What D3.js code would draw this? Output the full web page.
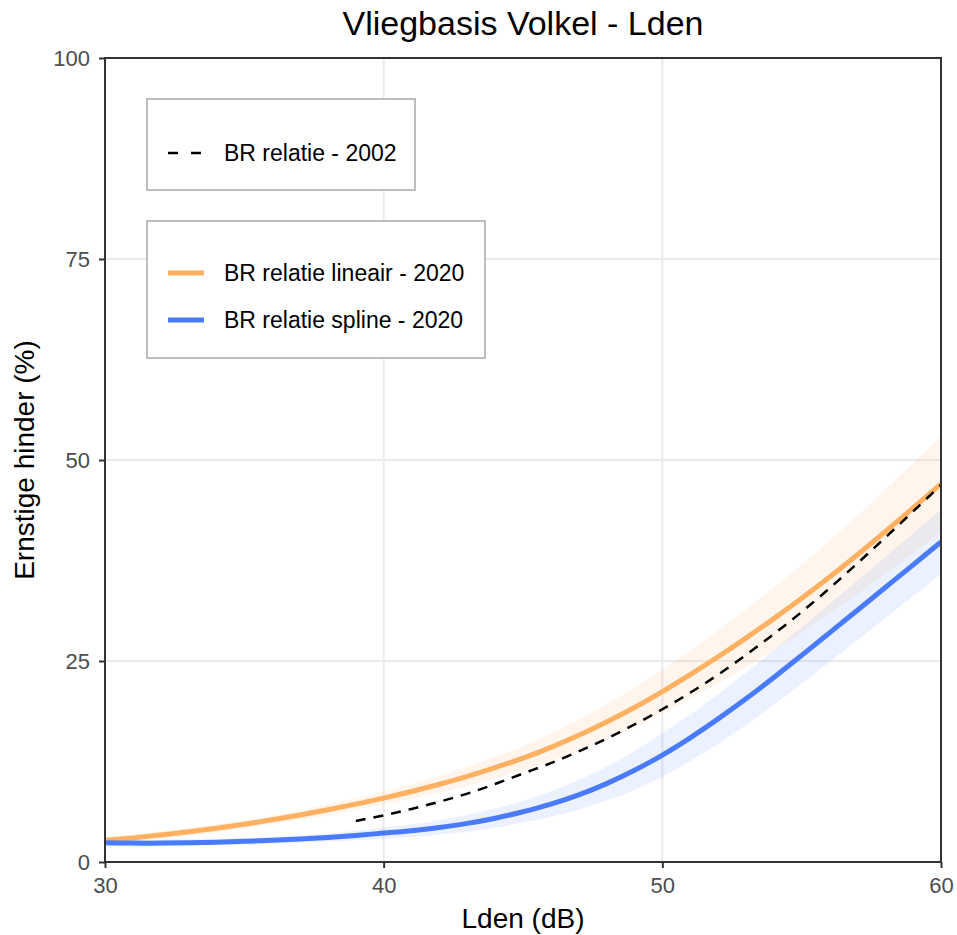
<!DOCTYPE html>
<html><head><meta charset="utf-8">
<script src="https://cdn.jsdelivr.net/npm/d3@7/dist/d3.min.js"></script>
<style>body{margin:0;background:#fff;} svg{display:block;font-family:"Liberation Sans",Arial,sans-serif;}</style>
</head><body>
<svg id="chart" width="957" height="935"></svg>
<script>
const title = "Vliegbasis Volkel - Lden";
const xLabel = "Lden (dB)";
const yLabel = "Ernstige hinder (%)";
const xTicks = [30, 40, 50, 60];
const yTicks = [0, 25, 50, 75, 100];

const lden = [30,31,32,33,34,35,36,37,38,39,40,41,42,43,44,45,46,47,48,49,50,51,52,53,54,55,56,57,58,59,60];
const lineair = [2.7,3.0,3.35,3.75,4.2,4.7,5.25,5.85,6.5,7.2,7.95,8.77,9.67,10.66,11.74,12.91,14.26,15.76,17.41,19.21,21.19,23.31,25.53,27.85,30.27,32.79,35.44,38.22,41.09,44.04,47.04];
const lineairCI = [0.4,0.42,0.44,0.46,0.48,0.5,0.55,0.6,0.67,0.73,0.8,0.92,1.05,1.2,1.35,1.5,1.72,1.95,2.2,2.45,2.7,3.0,3.3,3.6,3.9,4.2,4.55,4.9,5.25,5.6,6.0];
const spline = [2.4,2.35,2.35,2.4,2.47,2.57,2.7,2.86,3.05,3.3,3.6,3.9,4.3,4.8,5.45,6.25,7.2,8.35,9.75,11.4,13.3,15.45,17.8,20.3,22.95,25.7,28.5,31.32,34.14,36.96,39.8];
const splineCI = [0.5,0.48,0.45,0.42,0.4,0.4,0.42,0.45,0.5,0.6,0.7,0.8,0.9,1.05,1.2,1.35,1.6,1.85,2.1,2.4,2.7,2.9,3.1,3.25,3.4,3.5,3.6,3.7,3.8,3.9,4.0];
const lden2002 = [39,40,41,42,43,44,45,46,47,48,49,50,51,52,53,54,55,56,57,58,59,60];
const br2002 = [5.1,5.8,6.6,7.5,8.5,9.7,11.0,12.3,13.75,15.35,17.1,19.0,21.05,23.3,25.75,28.35,31.1,34.05,37.15,40.35,43.6,46.9];

const legend1 = ["BR relatie - 2002"];
const legend2 = ["BR relatie lineair - 2020", "BR relatie spline - 2020"];
const orange = "#FFB061", blue = "#4A7BFF";

const svg = d3.select("#chart");
const m = {l:105, r:941, t:58, b:862};
const x = d3.scaleLinear().domain([30,60]).range([m.l, m.r]);
const y = d3.scaleLinear().domain([0,100]).range([m.b, m.t]);

// gridlines
const g = svg.append("g");
g.selectAll("line.vx").data(xTicks).join("line")
  .attr("x1", d=>x(d)).attr("x2", d=>x(d)).attr("y1", m.t).attr("y2", m.b)
  .attr("stroke", "#EBEBEB").attr("stroke-width", 2);
g.selectAll("line.hy").data(yTicks).join("line")
  .attr("y1", d=>y(d)).attr("y2", d=>y(d)).attr("x1", m.l).attr("x2", m.r)
  .attr("stroke", "#EBEBEB").attr("stroke-width", 2);

svg.append("clipPath").attr("id","clip").append("rect")
  .attr("x", m.l).attr("y", m.t).attr("width", m.r-m.l).attr("height", m.b-m.t);
const plot = svg.append("g").attr("clip-path","url(#clip)");

const band = (vals, ci) => d3.area().x(d=>x(lden[d])).y0(d=>y(vals[d]-ci[d])).y1(d=>y(vals[d]+ci[d]))
  .curve(d3.curveCatmullRom)(d3.range(lden.length));
plot.append("path").attr("d", band(lineair, lineairCI)).attr("fill", orange).attr("fill-opacity", 0.12);
plot.append("path").attr("d", band(spline, splineCI)).attr("fill", blue).attr("fill-opacity", 0.11);

const line = (xs, ys) => d3.line().x(d=>x(xs[d])).y(d=>y(ys[d])).curve(d3.curveCatmullRom)(d3.range(xs.length));
plot.append("path").attr("d", line(lden, lineair)).attr("fill","none").attr("stroke", orange).attr("stroke-width", 5);
plot.append("path").attr("d", line(lden, spline)).attr("fill","none").attr("stroke", blue).attr("stroke-width", 5);
plot.append("path").attr("d", line(lden2002, br2002)).attr("fill","none").attr("stroke", "#000")
  .attr("stroke-width", 2.5).attr("stroke-dasharray", "10,8");

// axes
const xAxis = svg.append("g").attr("transform", `translate(0,${m.b})`)
  .call(d3.axisBottom(x).tickValues(xTicks).tickSize(6).tickPadding(9));
const yAxis = svg.append("g").attr("transform", `translate(${m.l},0)`)
  .call(d3.axisLeft(y).tickValues(yTicks).tickSize(6).tickPadding(9));
[xAxis, yAxis].forEach(a => {
  a.attr("font-size", null).attr("font-family", null);
  a.select(".domain").remove();
  a.selectAll(".tick line").attr("stroke", "#333").attr("stroke-width", 2);
  a.selectAll(".tick text").attr("fill", "#4D4D4D").style("font-size", "22px")
    .style("font-family", "'Liberation Sans', Arial, sans-serif");
});

// panel border
svg.append("rect").attr("x", m.l).attr("y", m.t).attr("width", m.r-m.l).attr("height", m.b-m.t)
  .attr("fill","none").attr("stroke","#333").attr("stroke-width", 2);

// titles
svg.append("text").attr("x", (m.l+m.r)/2).attr("y", 35).attr("text-anchor","middle")
  .style("font-size", "34px").attr("fill","#000").text(title);
svg.append("text").attr("x", (m.l+m.r)/2).attr("y", 928).attr("text-anchor","middle")
  .style("font-size", "28px").attr("fill","#000").text(xLabel);
svg.append("text").attr("transform", `translate(34,${(m.t+m.b)/2}) rotate(-90)`).attr("text-anchor","middle")
  .style("font-size", "28px").attr("fill","#000").text(yLabel);

// legends
const lg1 = svg.append("g");
lg1.append("rect").attr("x",147).attr("y",99).attr("width",268).attr("height",91)
  .attr("fill","#fff").attr("stroke","#BEBEBE").attr("stroke-width",2);
lg1.selectAll("line").data(legend1).join("line")
  .attr("x1",168).attr("x2",203).attr("y1",153).attr("y2",153)
  .attr("stroke","#000").attr("stroke-width",2.5).attr("stroke-dasharray","10,13");
lg1.selectAll("text").data(legend1).join("text")
  .attr("x",224).attr("y",161).style("font-size","23px").attr("fill","#000").text(d=>d);

const lg2 = svg.append("g");
lg2.append("rect").attr("x",147).attr("y",221).attr("width",338).attr("height",137)
  .attr("fill","#fff").attr("stroke","#BEBEBE").attr("stroke-width",2);
const cols = [orange, blue];
lg2.selectAll("line").data(legend2).join("line")
  .attr("x1",168).attr("x2",204).attr("y1",(d,i)=>273+i*47).attr("y2",(d,i)=>273+i*47)
  .attr("stroke",(d,i)=>cols[i]).attr("stroke-width",5);
lg2.selectAll("text").data(legend2).join("text")
  .attr("x",224).attr("y",(d,i)=>281+i*47).style("font-size","23px").attr("fill","#000").text(d=>d);
</script>
</body></html>
